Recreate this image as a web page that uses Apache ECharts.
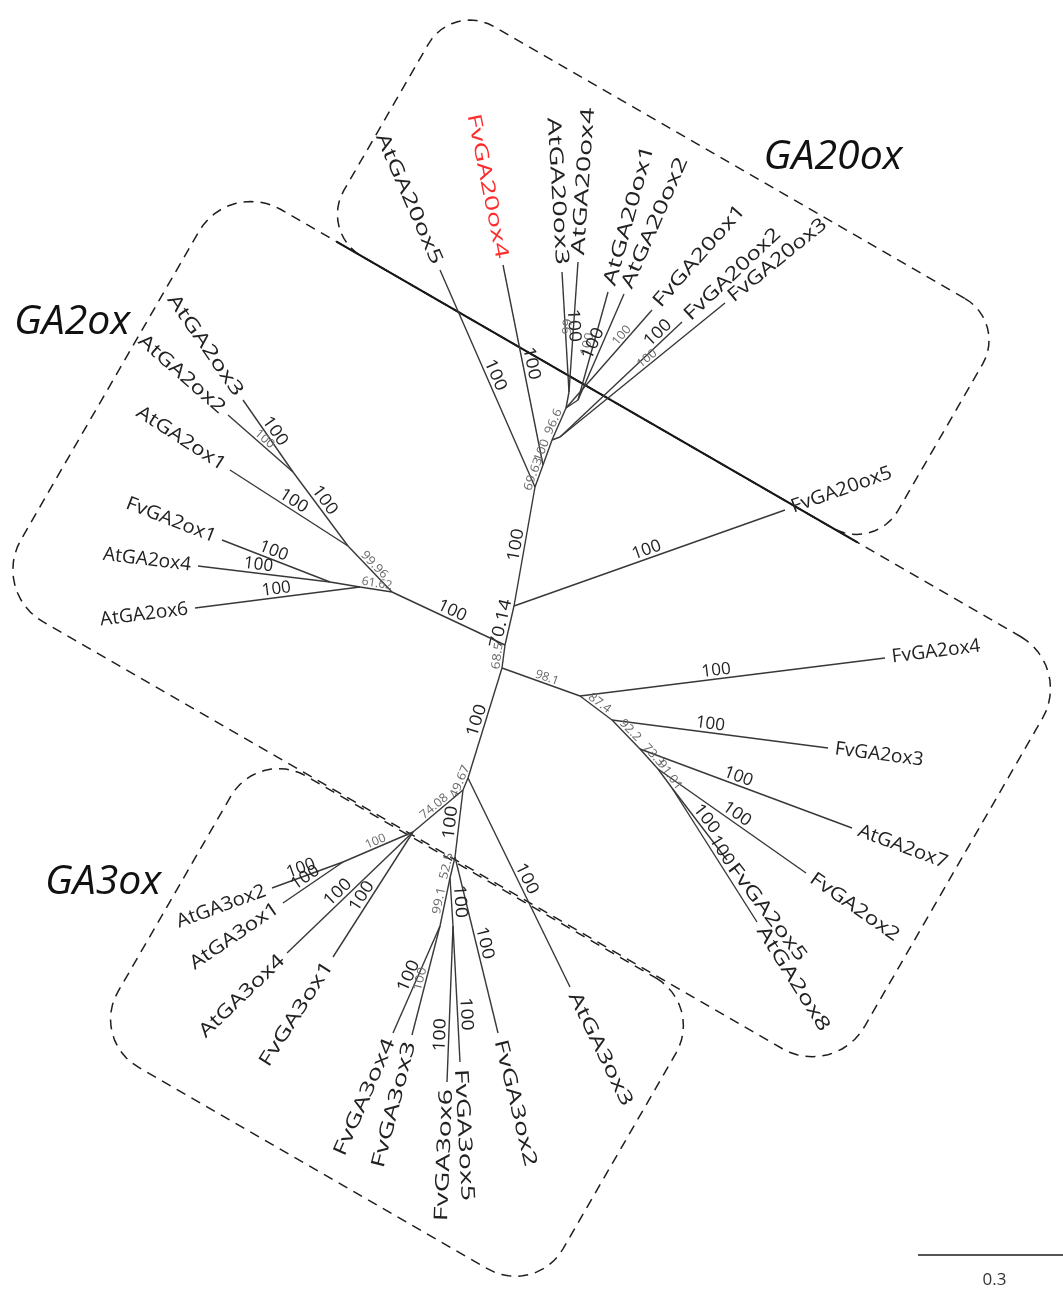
<!DOCTYPE html>
<html><head><meta charset="utf-8">
<script src="https://cdn.jsdelivr.net/npm/echarts@6/dist/echarts.min.js"></script>
<style>html,body{margin:0;padding:0;background:#fff}#c{width:1063px;height:1294px}</style>
</head><body><div id="c"></div>
<script>
// ---- tree data (node positions in the unrooted layout, parent links, bootstrap support) ----
const nodeName = ['T2','T1','R20','AtGA20ox5','G20a','FvGA20ox4','G20b','G23f','FvGA20ox2','FvGA20ox3',
  'G20c','G34','AtGA20ox3','AtGA20ox4','G12','AtGA20ox1','AtGA20ox2','FvGA20ox1','FvGA20ox5','G2L',
  'G2a','G23','AtGA2ox3','AtGA2ox2','AtGA2ox1','G2b','G14','FvGA2ox1','AtGA2ox4','AtGA2ox6',
  'T3','R1','FvGA2ox4','R2','FvGA2ox3','R3','AtGA2ox7','R4','FvGA2ox2','R5',
  'FvGA2ox5','AtGA2ox8','G3a','AtGA3ox3','G3b','G3L','G3p12','AtGA3ox2','AtGA3ox1','AtGA3ox4',
  'FvGA3ox1','G3D','FvGA3ox2','G3E','G34f','FvGA3ox4','FvGA3ox3','G56','FvGA3ox6','FvGA3ox5'];
const nodeX = [505,514,535,440,543,503,552,560,682,725,
  566,569,562,578,578,608,624,652,785,392,
  348,293,243,228,230,360,330,222,198,195,
  502,580,885,612,828,640,852,658,806,672,
  727,757,468,570,463,413,343,272,283,287,
  333,455,498,450,440,393,412,453,447,460];
const nodeY = [645,606,487,270,465,265,440,437,322,303,
  408,392,272,262,400,292,294,310,510,592,
  546,472,400,415,470,587,582,540,566,608,
  668,696,658,720,748,749,828,769,873,788,
  860,922,778,987,790,832,862,888,903,953,
  957,857,1033,878,926,1033,1035,926,1082,1062];
const nodeParent = ['', 'T2','T1','R20','R20','G20a','G20a','G20b','G23f','G23f',
  'G20b','G20c','G34','G34','G20c','G12','G12','G20c','T1','T2',
  'G2L','G2a','G23','G23','G2a','G2L','G2b','G14','G14','G2b',
  'T2','T3','R1','R1','R2','R2','R3','R3','R4','R4',
  'R5','R5','T3','G3a','G3a','G3b','G3L','G3p12','G3p12','G3L',
  'G3L','G3b','G3D','G3D','G3E','G34f','G34f','G3E','G56','G56'];
const branchSupport = ['', '70.14','100','100','69.63','100','100','','100','100',
  '96.6','','100','99','','100','100','100','100','100',
  '99.96','100','100','100','100','61.62','','100','100','100',
  '68.5','98.1','100','87.4','100','92.2','100','73.3','100','91.01',
  '100','100','100','100','49.67','74.08','100','100','100','100',
  '100','100','100','52.5','99.1','100','100','100','100','100'];

// ---- annotation layout ----
const supportAt = [0, .5,.5,.5,.5,.5,.5,0,.85,.55,
  .5,0,.55,.5,0,.5,.5,.7,.5,.5,
  .5,.55,.5,.5,.5,.5,0,.55,.55,.5,
  .5,.55,.45,.5,.45,.5,.45,.5,.5,.5,
  .5,.5,.5,.5,.5,.5,.5,.55,.55,.55,
  .55,.5,.5,.5,.5,.5,.5,.5,.7,.65];
const supportMinor = [0, 0,0,0,1,0,1,0,0,1,
  1,0,0,1,0,1,0,1,0,0,
  1,0,0,1,0,1,0,0,0,0,
  1,1,0,1,0,1,0,1,0,1,
  0,0,0,0,1,1,1,0,0,0,
  0,0,0,1,1,0,1,0,0,0];
const highlightTip = 'FvGA20ox4';

const groupNames = ['GA20ox','GA2ox','GA3ox'];
const groupLabelX = [833, 72, 103];
const groupLabelY = [157, 322, 882];
const boxU0 = [393, 288, 598];
const boxU1 = [1033, 1262, 1112];
const boxV0 = [-224, 41, 519];
const boxV1 = [41, 517, 855];
const boxRadius = [48, 60, 55];
const boxAngleDeg = 30;

const scaleBarLabel = '0.3';
const scaleBarX = [918, 1063];
const scaleBarY = 1255;

// the source figure is stretched vertically: text running up/down is drawn longer
const tipStretch = 1.5, supportStretch = 1.15;

// ---- build ----
const idx = {}; nodeName.forEach((n,i)=>idx[n]=i);
const hasChild = new Array(nodeName.length).fill(false);
nodeParent.forEach(p=>{ if(p) hasChild[idx[p]] = true; });
const edgeData = [];
nodeName.forEach((n,i)=>{
  if(!nodeParent[i]) return;
  const p = idx[nodeParent[i]];
  edgeData.push([nodeX[p], nodeY[p], nodeX[i], nodeY[i], i]);
});
const FONT = '"Open Sans", "DejaVu Sans", sans-serif';
const stretchAt = (a,k)=>Math.sqrt(Math.cos(a)*Math.cos(a) + k*k*Math.sin(a)*Math.sin(a));

function renderEdge(params, api){
  const i = api.value(4);
  const p = api.coord([api.value(0), api.value(1)]);
  const c = api.coord([api.value(2), api.value(3)]);
  const dx = c[0]-p[0], dy = c[1]-p[1];
  const len = Math.hypot(dx,dy) || 1;
  const ang = Math.atan2(dy,dx);
  const flip = dx < 0;
  const tAng = flip ? ang + Math.PI : ang;
  const kids = [{type:'line', shape:{x1:p[0],y1:p[1],x2:c[0],y2:c[1]},
    style:{stroke:'#383838', lineWidth:1.4}}];
  if(!hasChild[i]){
    const g = 7;
    kids.push({type:'text', x:c[0]+dx/len*g, y:c[1]+dy/len*g, rotation:-tAng,
      scaleX: stretchAt(tAng, tipStretch),
      style:{text:nodeName[i], align:flip?'right':'left', verticalAlign:'middle',
        font:'19px '+FONT, fill: nodeName[i]===highlightTip ? '#ff2a2a' : '#222'}});
  }
  if(branchSupport[i]){
    const t = supportAt[i];
    const minor = supportMinor[i];
    kids.push({type:'text', x:p[0]+dx*t, y:p[1]+dy*t, rotation:-tAng,
      scaleX: stretchAt(tAng, supportStretch),
      style:{text:branchSupport[i], align:'center', verticalAlign:'bottom',
        font:(minor?'12px ':'17px ')+FONT, fill: minor ? '#6a6a6a' : '#222'}});
  }
  return {type:'group', children:kids};
}

function boxPoints(b){
  const u0=boxU0[b], u1=boxU1[b], v0=boxV0[b], v1=boxV1[b], r=boxRadius[b];
  const pts = [];
  const arc = (cu,cv,a0,a1)=>{ for(let k=0;k<=12;k++){ const a=(a0+(a1-a0)*k/12)*Math.PI/180; pts.push([cu+r*Math.cos(a), cv+r*Math.sin(a)]); } };
  arc(u1-r, v0+r, -90, 0);
  arc(u1-r, v1-r, 0, 90);
  arc(u0+r, v1-r, 90, 180);
  arc(u0+r, v0+r, 180, 270);
  return pts;
}
function uvToXY(u,v){
  const a = boxAngleDeg*Math.PI/180;
  return [u*Math.cos(a) - v*Math.sin(a), u*Math.sin(a) + v*Math.cos(a)];
}
function renderBox(params, api){
  const b = api.value(0);
  const pts = boxPoints(b).map(q=>api.coord(uvToXY(q[0],q[1])));
  const kids = [{type:'polygon', shape:{points:pts},
    style:{fill:'none', stroke:'#1e1e1e', lineWidth:1.5, lineDash:[10,7]}}];
  if(b===0){
    const a = api.coord(uvToXY(boxU0[0]+boxRadius[0]*0.4, boxV1[0]));
    const e = api.coord(uvToXY(boxU1[0]-boxRadius[0]*0.4, boxV1[0]));
    kids.push({type:'line', shape:{x1:a[0],y1:a[1],x2:e[0],y2:e[1]}, style:{stroke:'#111', lineWidth:2.2}});
  }
  const lp = api.coord([groupLabelX[b], groupLabelY[b]]);
  kids.push({type:'text', x:lp[0], y:lp[1], style:{text:groupNames[b], align:'center', verticalAlign:'middle',
    font:'italic 41px '+FONT, fill:'#111'}});
  return {type:'group', children:kids};
}
function renderScale(params, api){
  const a = api.coord([scaleBarX[0], scaleBarY]);
  const e = api.coord([scaleBarX[1], scaleBarY]);
  return {type:'group', children:[
    {type:'line', shape:{x1:a[0],y1:a[1],x2:e[0],y2:e[1]}, style:{stroke:'#555', lineWidth:2}},
    {type:'text', x:(a[0]+e[0])/2 + 4, y:a[1]+17, style:{text:scaleBarLabel, align:'center', verticalAlign:'top', font:'17px '+FONT, fill:'#333'}}
  ]};
}

const chart = echarts.init(document.getElementById('c'), null, {renderer:'canvas'});
chart.setOption({
  animation:false,
  backgroundColor:'#fff',
  grid:{left:0,right:0,top:0,bottom:0},
  xAxis:{type:'value', min:0, max:1063, show:false},
  yAxis:{type:'value', min:0, max:1294, inverse:true, show:false},
  series:[
    {type:'custom', renderItem:renderBox, data:[[0],[1],[2]], silent:true, clip:false},
    {type:'custom', renderItem:renderEdge, data:edgeData, silent:true, clip:false},
    {type:'custom', renderItem:renderScale, data:[[0]], silent:true, clip:false}
  ]
});
</script></body></html>
